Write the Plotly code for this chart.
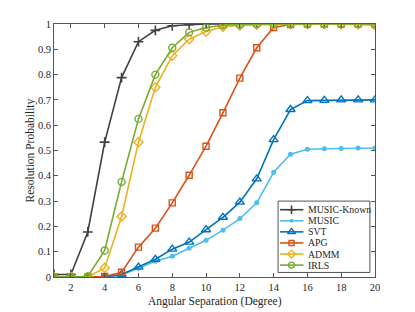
import plotly.graph_objects as go

x = list(range(1, 21))
music_known = [0.01, 0.01, 0.178, 0.533, 0.788, 0.93, 0.975, 0.993, 0.997, 1, 1, 1, 1, 1, 1, 1, 1, 1, 1, 1]
music = [0, 0, 0, 0, 0.008, 0.035, 0.062, 0.082, 0.114, 0.145, 0.185, 0.231, 0.293, 0.414, 0.485, 0.505, 0.507, 0.508, 0.51, 0.51]
svt = [0, 0, 0, 0, 0.01, 0.039, 0.07, 0.11, 0.138, 0.187, 0.236, 0.296, 0.388, 0.543, 0.662, 0.697, 0.698, 0.70, 0.70, 0.70]
apg = [0, 0, 0, 0.002, 0.019, 0.118, 0.193, 0.293, 0.402, 0.517, 0.649, 0.786, 0.906, 0.986, 0.998, 1, 1, 1, 1, 0.998]
admm = [0, 0, 0, 0.036, 0.239, 0.533, 0.75, 0.875, 0.94, 0.97, 0.989, 0.994, 0.997, 0.998, 0.999, 1, 1, 0.999, 0.998, 0.995]
irls = [0, 0, 0.002, 0.105, 0.376, 0.625, 0.80, 0.906, 0.967, 0.986, 0.995, 0.998, 1, 1, 1, 1, 1, 1, 1, 1]

x_ticks = [2, 4, 6, 8, 10, 12, 14, 16, 18, 20]
y_ticks = [0, 0.1, 0.2, 0.3, 0.4, 0.5, 0.6, 0.7, 0.8, 0.9, 1]
y_tick_text = ["0", "0.1", "0.2", "0.3", "0.4", "0.5", "0.6", "0.7", "0.8", "0.9", "1"]

names = ["MUSIC-Known", "MUSIC", "SVT", "APG", "ADMM", "IRLS"]
values = [music_known, music, svt, apg, admm, irls]
colors = ["#404040", "#4DBEEE", "#0072BD", "#D95319", "#EDB120", "#77AC30"]
symbols = ["cross-thin-open", "circle", "triangle-up-open", "square-open", "diamond-open", "circle-open"]
sizes = [7, 5, 8, 6, 7, 7]
mlw = [1.6, 0, 1.4, 1.4, 1.4, 1.4]

SERIF = "Liberation Serif"
TXT = "#262626"
AX = "#555555"

fig = go.Figure()
for n, y, c, s, sz, lw in zip(names, values, colors, symbols, sizes, mlw):
    fig.add_trace(go.Scatter(
        x=x, y=y, name=n, mode="lines+markers", showlegend=False,
        line=dict(color=c, width=1.6),
        marker=dict(symbol=s, size=sz, color=c, line=dict(color=c, width=lw)),
    ))

# compact legend, built in axis-domain coordinates
lx0, lx1, ly0, ly1 = 0.698, 0.984, 0.018, 0.300
row_top, row_step = 0.266, 0.0438
fig.add_shape(type="rect", xref="x domain", yref="y domain",
              x0=lx0, x1=lx1, y0=ly0, y1=ly1,
              line=dict(color=TXT, width=0.8), fillcolor="white", layer="below")
for i, (n, c, s, sz, lw) in enumerate(zip(names, colors, symbols, sizes, mlw)):
    yy = row_top - i * row_step
    fig.add_shape(type="line", xref="x domain", yref="y domain",
                  x0=0.704, x1=0.777, y0=yy, y1=yy,
                  line=dict(color=c, width=1.6), layer="below")
    fig.add_trace(go.Scatter(
        x=[0.740], y=[yy], xaxis="x2", yaxis="y2", mode="markers", showlegend=False,
        hoverinfo="skip",
        marker=dict(symbol=s, size=max(sz - 1, 4), color=c, line=dict(color=c, width=lw)),
    ))
    fig.add_annotation(xref="x domain", yref="y domain", x=0.785, y=yy,
                       text=n, showarrow=False, xanchor="left", yanchor="middle",
                       font=dict(family=SERIF, size=9.8, color=TXT))

# axis titles
fig.add_annotation(xref="x domain", yref="y domain", x=0.5, y=0, yshift=-24,
                   text="Angular Separation (Degree)", showarrow=False,
                   xanchor="center", yanchor="middle",
                   font=dict(family=SERIF, size=11.5, color=TXT))
fig.add_annotation(xref="x domain", yref="y domain", x=0, y=0.5, xshift=-24,
                   text="Resolution Probability", showarrow=False, textangle=-90,
                   xanchor="center", yanchor="middle",
                   font=dict(family=SERIF, size=11.5, color=TXT))

fig.update_layout(
    width=415, height=312,
    margin=dict(l=46, r=48, t=16, b=43),
    paper_bgcolor="white", plot_bgcolor="white",
    font=dict(family=SERIF, size=10.5, color=TXT),
    showlegend=False,
    xaxis=dict(
        range=[1, 20], tickvals=x_ticks,
        ticks="inside", ticklen=4, tickcolor=AX,
        showline=True, linecolor=AX, linewidth=0.8, mirror="ticks",
        showgrid=False, zeroline=False,
        tickfont=dict(family=SERIF, size=10.5, color=TXT),
    ),
    yaxis=dict(
        range=[0, 1], tickvals=y_ticks, ticktext=y_tick_text,
        ticks="inside", ticklen=4, tickcolor=AX,
        showline=True, linecolor=AX, linewidth=0.8, mirror="ticks",
        showgrid=False, zeroline=False,
        tickfont=dict(family=SERIF, size=10.5, color=TXT),
    ),
    xaxis2=dict(range=[0, 1], overlaying="x", visible=False, fixedrange=True),
    yaxis2=dict(range=[0, 1], overlaying="y", visible=False, fixedrange=True),
)

fig.write_html("out.html")
